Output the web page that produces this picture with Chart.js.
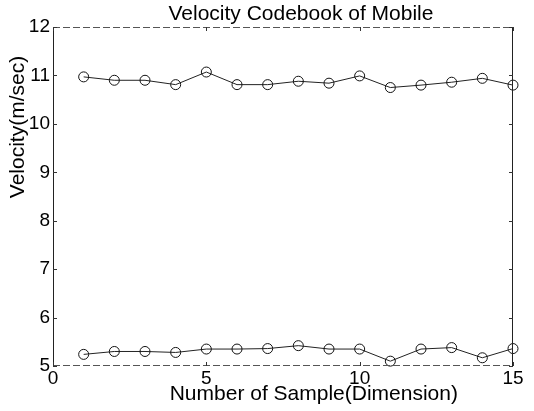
<!DOCTYPE html>
<html>
<head>
<meta charset="utf-8">
<script src="https://cdn.jsdelivr.net/npm/chart.js@4/dist/chart.umd.min.js"></script>
<style>
  html, body { margin: 0; padding: 0; background: #fff; }
  #wrap { width: 534px; height: 411px; }
</style>
</head>
<body>
<div id="wrap"><canvas id="chart" width="534" height="411"></canvas></div>
<script>
// data
const samples = [1, 2, 3, 4, 5, 6, 7, 8, 9, 10, 11, 12, 13, 14, 15];
const upperVelocity = [10.97, 10.90, 10.90, 10.81, 11.07, 10.81, 10.81, 10.88, 10.84, 10.99, 10.75, 10.80, 10.86, 10.94, 10.80];
const lowerVelocity = [5.24, 5.30, 5.30, 5.28, 5.35, 5.35, 5.36, 5.42, 5.35, 5.35, 5.10, 5.35, 5.38, 5.17, 5.36];
const xTicks = [0, 5, 10, 15];
const yTicks = [5, 6, 7, 8, 9, 10, 11, 12];

const chartTitle = 'Velocity Codebook of Mobile';
const xTitle = 'Number of Sample(Dimension)';
const yTitle = 'Velocity(m/sec)';

const fontFamily = '"Liberation Sans", Arial, Helvetica, sans-serif';

function toPoints(values) {
    return samples.map((s, i) => ({ x: s, y: values[i] }));
}

function makeDataset(values) {
    return {
        data: toPoints(values),
        borderColor: '#222',
        borderWidth: 1,
        pointStyle: 'circle',
        pointRadius: 5,
        pointBorderWidth: 1,
        pointBorderColor: '#111',
        pointBackgroundColor: 'rgba(0,0,0,0)',
        tension: 0,
        clip: false
    };
}

// box, inward ticks and the three titles, placed like the old matlab figure
const frame = {
    id: 'frame',
    afterDraw(chart) {
        const { ctx, chartArea: a, scales } = chart;
        const w = a.right - a.left;
        ctx.save();
        ctx.strokeStyle = '#222';
        ctx.lineWidth = 1;

        ctx.beginPath();
        ctx.moveTo(a.left + 0.5, a.top);
        ctx.lineTo(a.left + 0.5, a.bottom);
        ctx.moveTo(a.right - 0.5, a.top);
        ctx.lineTo(a.right - 0.5, a.bottom);
        ctx.stroke();

        ctx.strokeStyle = '#555';
        ctx.setLineDash([7, 3]);
        ctx.beginPath();
        ctx.moveTo(a.left, a.top + 0.5);
        ctx.lineTo(a.right, a.top + 0.5);
        ctx.moveTo(a.left, a.bottom - 0.5);
        ctx.lineTo(a.right, a.bottom - 0.5);
        ctx.stroke();
        ctx.setLineDash([]);

        ctx.strokeStyle = '#333';
        ctx.beginPath();
        yTicks.forEach(v => {
            const y = Math.round(scales.y.getPixelForValue(v)) + 0.5;
            ctx.moveTo(a.left, y);
            ctx.lineTo(a.left + 4, y);
            ctx.moveTo(a.right, y);
            ctx.lineTo(a.right - 4, y);
        });
        xTicks.forEach(v => {
            const x = Math.round(scales.x.getPixelForValue(v)) + 0.5;
            ctx.moveTo(x, a.bottom);
            ctx.lineTo(x, a.bottom - 4);
            ctx.moveTo(x, a.top);
            ctx.lineTo(x, a.top + 4);
        });
        ctx.stroke();

        ctx.fillStyle = '#000';
        ctx.textAlign = 'center';
        ctx.textBaseline = 'alphabetic';
        ctx.font = '21px ' + fontFamily;
        ctx.fillText(chartTitle, a.left + w * 0.539, 20);
        ctx.fillText(xTitle, a.left + w * 0.567, 400);

        ctx.translate(18, 127);
        ctx.rotate(-Math.PI / 2);
        ctx.textBaseline = 'middle';
        ctx.fillText(yTitle, 0, 0);
        ctx.restore();
    }
};

new Chart(document.getElementById('chart'), {
    type: 'line',
    data: {
        datasets: [makeDataset(upperVelocity), makeDataset(lowerVelocity)]
    },
    options: {
        responsive: false,
        animation: false,
        layout: { padding: { top: 27, right: 21, left: 0, bottom: 0 } },
        plugins: {
            legend: { display: false },
            tooltip: { enabled: false },
            title: { display: false }
        },
        scales: {
            x: {
                type: 'linear',
                min: 0,
                max: 15,
                afterBuildTicks: scale => { scale.ticks = xTicks.map(v => ({ value: v })); },
                afterFit: scale => { scale.height = 45; },
                grid: { display: false, drawTicks: false },
                border: { display: false },
                ticks: {
                    color: '#000',
                    padding: 1,
                    maxRotation: 0,
                    font: { family: fontFamily, size: 19 }
                }
            },
            y: {
                type: 'linear',
                min: 5,
                max: 12,
                afterBuildTicks: scale => { scale.ticks = yTicks.map(v => ({ value: v })); },
                afterFit: scale => { scale.width = 53; },
                grid: { display: false, drawTicks: false },
                border: { display: false },
                ticks: {
                    color: '#000',
                    padding: 3,
                    font: { family: fontFamily, size: 19 }
                }
            }
        }
    },
    plugins: [frame]
});
</script>
</body>
</html>
